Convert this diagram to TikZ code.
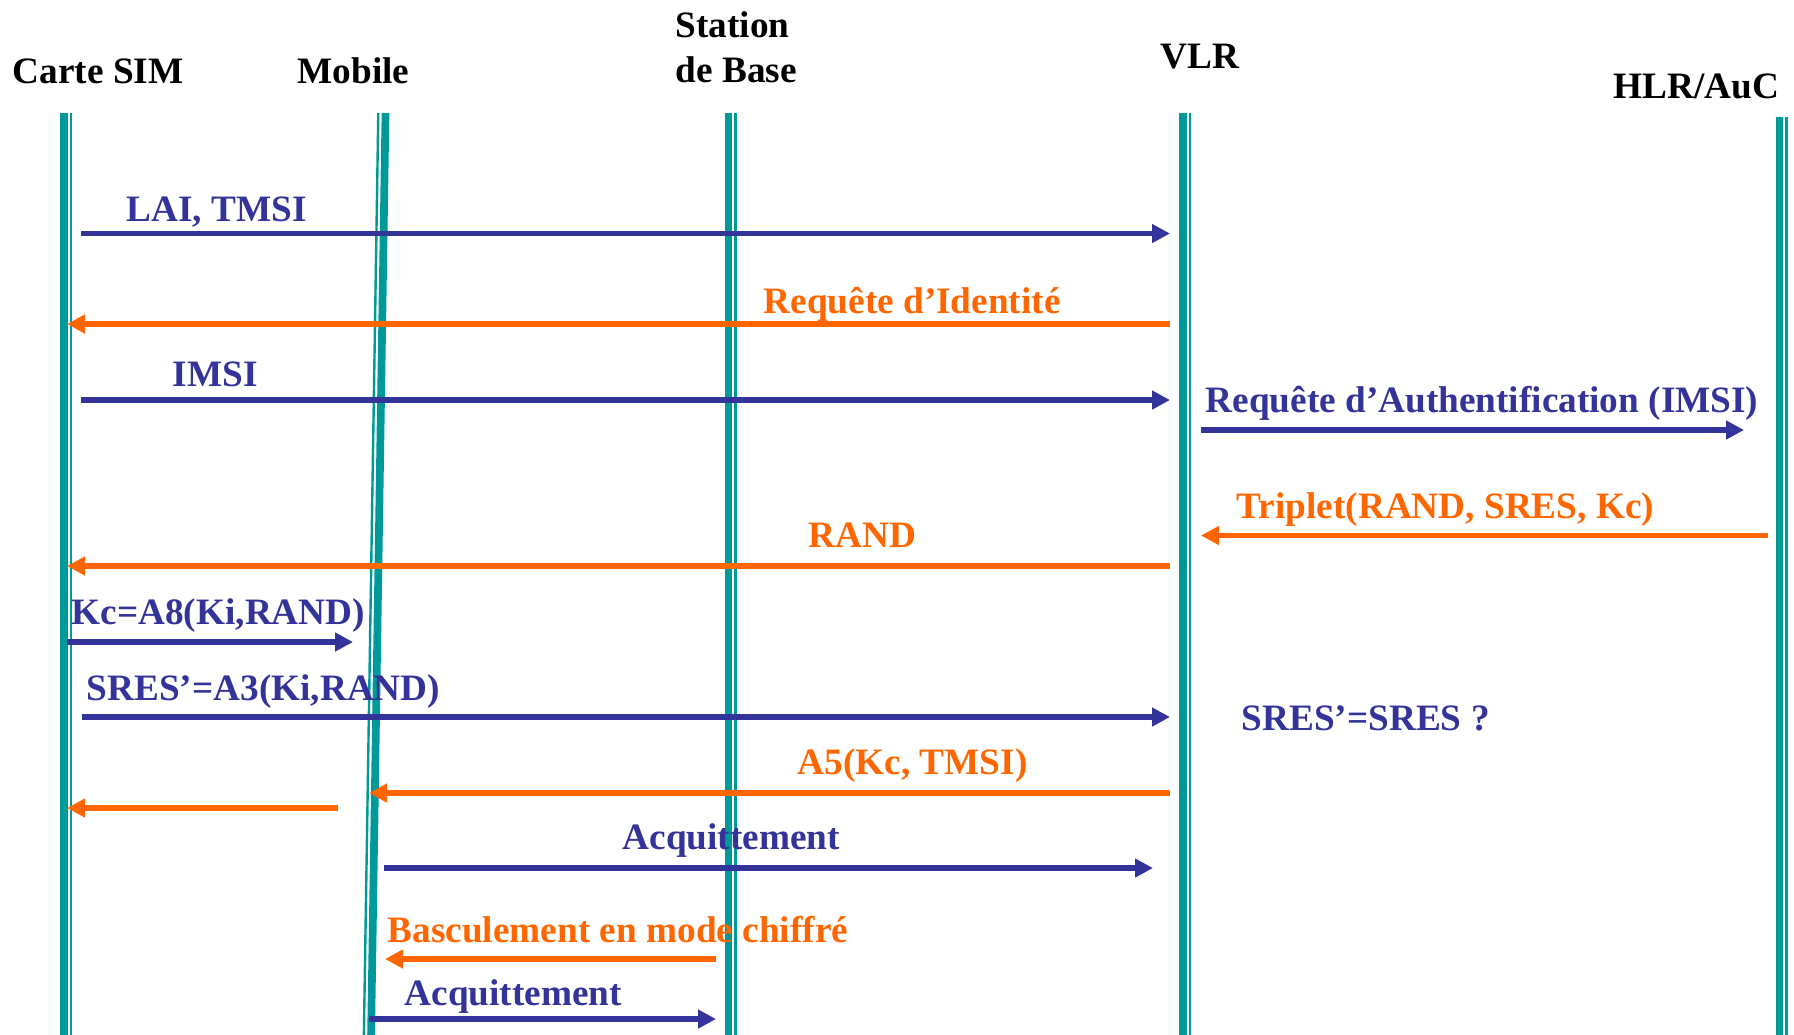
\documentclass[tikz,border=0pt]{standalone}
\usepackage{fontspec}
\setmainfont{Liberation Serif}
\usetikzlibrary{arrows.meta}
\definecolor{sarcelle}{HTML}{009999}
\definecolor{bleumsg}{HTML}{333399}
\definecolor{orangemsg}{HTML}{FF6600}

\begin{document}
\begin{tikzpicture}[x=0.1mm, y=-0.1mm,
  vie/.style={sarcelle, line width=0.77mm},
  viefine/.style={sarcelle, line width=0.24mm},
  msg/.style={line width=0.55mm, -{Triangle[length=1.8mm, width=1.8mm]}},
  aller/.style={msg, bleumsg},
  retour/.style={msg, orangemsg},
  entete/.style={anchor=base west, inner sep=0pt, align=left,
    font=\bfseries\fontsize{10.6}{12.8}\selectfont},
  etiqb/.style={entete, text=bleumsg},
  etiqo/.style={entete, text=orangemsg}]
  \useasboundingbox (0,0) rectangle (1794,1034);
  % entites
  \node[entete] (sim) at (12,83) {Carte SIM};
  \node[entete] (mob) at (297,83) {Mobile};
  \node[entete] (bs) at (675,82) {Station\\de Base};
  \node[entete] (vlr) at (1160,68) {VLR};
  \node[entete] (hlr) at (1613,98) {HLR/AuC};
  % lignes de vie
  \foreach \nom/\x/\h in {sim/64/113, bts/728.5/113, reg/1183/113, auc/1779.5/117} {
    \coordinate (\nom-h) at (\x,\h);
    \coordinate (\nom-b) at (\x,1040);
    \draw[vie] (\nom-h) -- (\nom-b);
    \draw[viefine] ([xshift=0.68mm]\nom-h) -- ([xshift=0.68mm]\nom-b);
  }
  \coordinate (me-h) at (385.5,113);
  \coordinate (me-b) at (371,1040);
  \draw[vie] (me-h) -- (me-b);
  \draw[viefine] ([xshift=-0.72mm]me-h) -- ([xshift=-0.72mm]me-b);
  % LAI, TMSI
  \coordinate (m1a) at (81,233.5); \coordinate (m1b) at (1170,233.5);
  \draw[aller] (m1a) -- (m1b);
  \node[etiqb] (l1) at (126,221) {LAI, TMSI};
  % requete d'identite
  \coordinate (m2a) at (1170,324); \coordinate (m2b) at (67,324);
  \draw[retour] (m2a) -- (m2b);
  \node[etiqo] (l2) at (763,313) {Requête d’Identité};
  % IMSI
  \coordinate (m3a) at (81,400); \coordinate (m3b) at (1170,400);
  \draw[aller] (m3a) -- (m3b);
  \node[etiqb] (l3) at (172,386) {IMSI};
  % vers le HLR
  \coordinate (m4a) at (1201,430); \coordinate (m4b) at (1744,430);
  \draw[aller] (m4a) -- (m4b);
  \node[etiqb] (l4) at (1205,412) {Requête d’Authentification (IMSI)};
  \coordinate (m5a) at (1768,535.5); \coordinate (m5b) at (1201,535.5);
  \draw[retour] (m5a) -- (m5b);
  \node[etiqo] (l5) at (1236,518) {Triplet(RAND, SRES, Kc)};
  % RAND
  \coordinate (m6a) at (1170,566); \coordinate (m6b) at (67,566);
  \draw[retour] (m6a) -- (m6b);
  \node[etiqo] (l6) at (808,547) {RAND};
  % calculs sur la carte
  \coordinate (m7a) at (67,642); \coordinate (m7b) at (353,642);
  \draw[aller] (m7a) -- (m7b);
  \node[etiqb] (l7) at (71,624) {Kc=A8(Ki,RAND)};
  \coordinate (m8a) at (82,717); \coordinate (m8b) at (1170,717);
  \draw[aller] (m8a) -- (m8b);
  \node[etiqb] (l8) at (86,700) {SRES’=A3(Ki,RAND)};
  \node[etiqb] (verif) at (1241,730) {SRES’=SRES ?};
  % chiffrement
  \coordinate (m9a) at (1170,793); \coordinate (m9b) at (369,793);
  \draw[retour] (m9a) -- (m9b);
  \node[etiqo] (l9) at (797,774) {A5(Kc, TMSI)};
  \coordinate (m10a) at (338,808); \coordinate (m10b) at (67,808);
  \draw[retour] (m10a) -- (m10b);
  % acquittements
  \coordinate (m11a) at (384,868); \coordinate (m11b) at (1153,868);
  \draw[aller] (m11a) -- (m11b);
  \node[etiqb] (l11) at (622,849) {Acquittement};
  \coordinate (m12a) at (716,959); \coordinate (m12b) at (385,959);
  \draw[retour] (m12a) -- (m12b);
  \node[etiqo] (l12) at (387,942) {Basculement en mode chiffré};
  \coordinate (m13a) at (369,1019); \coordinate (m13b) at (716,1019);
  \draw[aller] (m13a) -- (m13b);
  \node[etiqb] (l13) at (404,1005) {Acquittement};
\end{tikzpicture}
\end{document}
